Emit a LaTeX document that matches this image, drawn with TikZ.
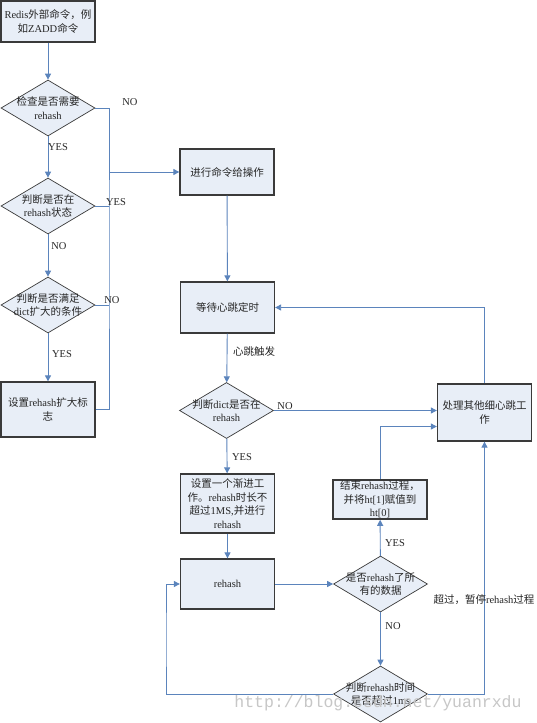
\documentclass[tikz,border=0pt]{standalone}
\usepackage{fontspec}
\setmainfont{Liberation Serif}
\newfontfamily\cjkf{Noto Sans CJK SC}
\newfontfamily\wmf{Liberation Mono}
\newcommand\zh[1]{{\cjkf #1}}
\usetikzlibrary{shapes.geometric,arrows.meta}
\definecolor{boxfill}{HTML}{E8EEF7}
\definecolor{lineblue}{HTML}{5B84BC}
\definecolor{edgecol}{HTML}{3A3A3A}
\begin{document}
\begin{tikzpicture}[x=1pt,y=-1pt,
  font=\fontsize{10.5}{13.5}\selectfont,
  every node/.style={text=black!85},
  box/.style={rectangle,draw=edgecol,line width=1.3pt,fill=boxfill,minimum width=94pt,minimum height=#1,inner sep=1pt,align=center},
  dia/.style={diamond,draw=edgecol,line width=0.7pt,fill=boxfill,minimum width=94pt,minimum height=56pt,inner sep=0pt},
  dtext/.style={align=center,inner sep=0pt},
  lbl/.style={inner sep=0pt},
  ln/.style={draw=lineblue,line width=0.9pt},
  arr/.style={ln,-{Triangle[length=6pt,width=6pt]}}]
\useasboundingbox[fill=white] (0,0) rectangle (536,723);
% left column
\node[box=41pt] (n1) at (48,21.5) {Redis\zh{外部命令，例}\\\zh{如}ZADD\zh{命令}};
\node[dia] (d1) at (48,108) {};
\node[dtext] (d1t) at (d1) {\zh{检查是否需要}\\rehash};
\node[dia] (d2) at (48,206) {};
\node[dtext] (d2t) at (d2) {\zh{判断是否在}\\rehash\zh{状态}};
\node[dia] (d3) at (48,305) {};
\node[dtext] (d3t) at (d3) {\zh{判断是否满足}\\dict\zh{扩大的条件}};
\node[box=55pt] (s4) at (48,409.5) {\zh{设置}rehash\zh{扩大标}\\\zh{志}};
\coordinate (bus) at (109,250);
% middle column
\node[box=46pt] (p1) at (227,172) {\zh{进行命令给操作}};
\node[box=51pt] (p2) at (227.5,307.5) {\zh{等待心跳定时}};
\node[dia] (d4) at (226.5,410.5) {};
\node[dtext] (d4t) at (d4) {\zh{判断}dict\zh{是否在}\\rehash};
\node[box=59pt] (s5) at (227.5,503.5) {\zh{设置一个渐进工}\\\zh{作。}rehash\zh{时长不}\\\zh{超过}1MS,\zh{并进行}\\rehash};
\node[box=50pt] (r) at (227.5,584) {rehash};
% right part
\node[dia] (d5) at (380.5,584) {};
\node[dtext] (d5t) at (d5) {\zh{是否}rehash\zh{了所}\\\zh{有的数据}};
\node[box=37pt] (e) at (380,499.5) {\zh{结束}rehash\zh{过程，}\\\zh{并将}ht[1]\zh{赋值到}\\ht[0]};
\node[box=57pt] (p3) at (484.5,412.5) {\zh{处理其他细心跳工}\\\zh{作}};
\node[dia] (d6) at (380.5,694) {};
\node[dtext] (d6t) at (d6) {\zh{判断}rehash\zh{时间}\\\zh{是否超过}1ms};
\coordinate (lb) at (166,640);
% connectors left
\draw[arr] (n1) -- (d1);
\draw[arr] (d1) -- (d2);
\draw[arr] (d2) -- (d3);
\draw[arr] (d3) -- (s4);
\draw[ln] (d1.east) -| (bus) |- (s4.east);
\draw[ln] (d2.east) -- (d2.east -| bus);
\draw[ln] (d3.east) -- (d3.east -| bus);
\draw[arr] (p1.west -| bus) -- (p1.west);
% connectors middle
\draw[arr] (p1) -- (p2);
\draw[arr] (p2) -- (d4);
\draw[arr] (d4.east) -- (d4.east -| p3.west);
\draw[arr] (d4) -- (s5);
\draw[arr] (s5) -- (r);
\draw[arr] (r) -- (d5);
\draw[arr] (d5) -- (e);
\draw[arr] (e.north) |- ([yshift=-14pt]p3.west);
\draw[arr] (p3.north) |- (p2.east);
\draw[arr] (d5) -- (d6);
\draw[arr] (d6.west) -| (lb) |- (r.west);
\draw[arr] (d6.east) -| (p3.south);
% labels
\node[lbl] (l1) at (130,102) {NO};
\node[lbl] (l2) at (58,147) {YES};
\node[lbl] (l3) at (116,202) {YES};
\node[lbl] (l4) at (59,246) {NO};
\node[lbl] (l5) at (112,300) {NO};
\node[lbl] (l6) at (62,354) {YES};
\node[lbl] (l7) at (254,351) {\zh{心跳触发}};
\node[lbl] (l8) at (285,406) {NO};
\node[lbl] (l9) at (242,457) {YES};
\node[lbl] (l10) at (395,543) {YES};
\node[lbl] (l11) at (393,626) {NO};
\node[lbl] (l12) at (484,600) {\zh{超过，暂停}rehash\zh{过程}};
% watermark
\node[lbl,text=black!22,font=\wmf\fontsize{16.5}{18}\selectfont] (wm) at (378,703) {http://blog.csdn.net/yuanrxdu};
\end{tikzpicture}
\end{document}
